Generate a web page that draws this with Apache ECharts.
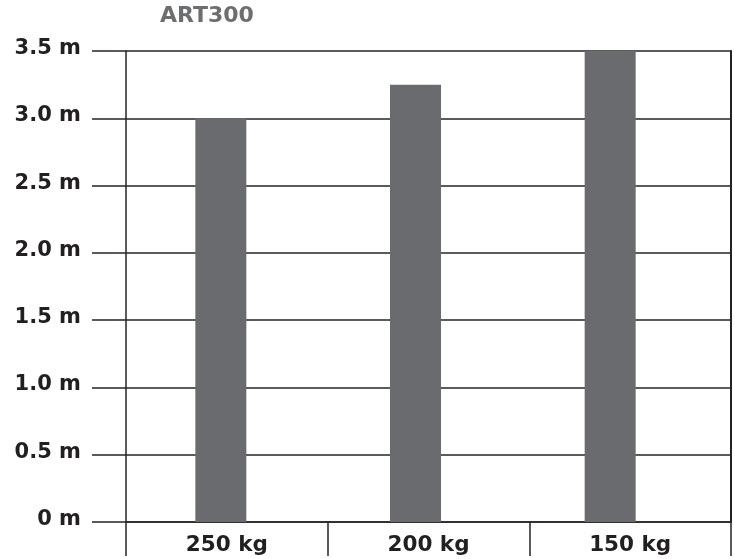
<!DOCTYPE html>
<html>
<head>
<meta charset="utf-8">
<script src="https://cdn.jsdelivr.net/npm/echarts@6/dist/echarts.min.js"></script>
<style>
html,body{margin:0;padding:0;background:#fff;}
#chart{width:734px;height:559px;}
</style>
</head>
<body>
<div id="chart"></div>
<script>
var titleText = 'ART300';
var categories = ['250 kg', '200 kg', '150 kg'];
var heights = [3.0, 3.25, 3.5];
var yTickValues = [0, 0.5, 1.0, 1.5, 2.0, 2.5, 3.0, 3.5];
var yTickLabels = ['0 m', '0.5 m', '1.0 m', '1.5 m', '2.0 m', '2.5 m', '3.0 m', '3.5 m'];

var FONT = '"DejaVu Sans", Verdana, sans-serif';
var LINE = '#262324';

var chart = echarts.init(document.getElementById('chart'), null, {renderer: 'canvas'});
chart.setOption({
  animation: false,
  backgroundColor: '#ffffff',
  title: {
    text: titleText,
    left: 155,
    top: 0,
    textStyle: {fontFamily: FONT, fontWeight: 'bold', fontSize: 22, color: '#6d6e71'}
  },
  grid: [
    {left: 126, right: 3, top: 51, bottom: 37, containLabel: false},
    {left: 123.5, right: 26.5, top: 51, bottom: 37, containLabel: false}
  ],
  xAxis: [
    {
      type: 'category', gridIndex: 0, data: categories, boundaryGap: true,
      axisLine: {show: true, lineStyle: {color: LINE, width: 1.5}},
      axisTick: {show: true, length: 34, interval: 0, lineStyle: {color: LINE, width: 1.5}},
      axisLabel: {interval: 0, margin: 12, fontFamily: FONT, fontWeight: 'bold', fontSize: 21.5, color: '#231f20'}
    },
    {
      type: 'category', gridIndex: 1, data: categories, show: false
    }
  ],
  yAxis: [
    {
      type: 'value', gridIndex: 0, min: 0, max: 3.5, interval: 0.5,
      axisLine: {show: true, lineStyle: {color: LINE, width: 1.5}},
      axisTick: {show: true, inside: false, length: 34, lineStyle: {color: LINE, width: 1.5}},
      splitLine: {show: true, lineStyle: {color: LINE, width: 1.5}},
      axisLabel: {
        margin: 45, fontFamily: FONT, fontWeight: 'bold', fontSize: 21, color: '#231f20',
        verticalAlign: 'bottom', lineHeight: 5,
        formatter: function (v) {
          var i = yTickValues.indexOf(Math.round(v * 10) / 10);
          return i >= 0 ? yTickLabels[i] : '';
        }
      }
    },
    {
      type: 'value', gridIndex: 0, min: 0, max: 3.5, interval: 0.5, position: 'right',
      axisLine: {show: true, lineStyle: {color: LINE, width: 2}},
      axisTick: {show: false}, axisLabel: {show: false}, splitLine: {show: false}
    },
    {
      type: 'value', gridIndex: 1, min: 0, max: 3.5, interval: 0.5, show: false,
      splitLine: {show: false}
    }
  ],
  series: [{
    type: 'bar',
    xAxisIndex: 1,
    yAxisIndex: 2,
    data: heights,
    barWidth: 51,
    itemStyle: {color: '#6a6b6f'}
  }]
});
</script>
</body>
</html>
